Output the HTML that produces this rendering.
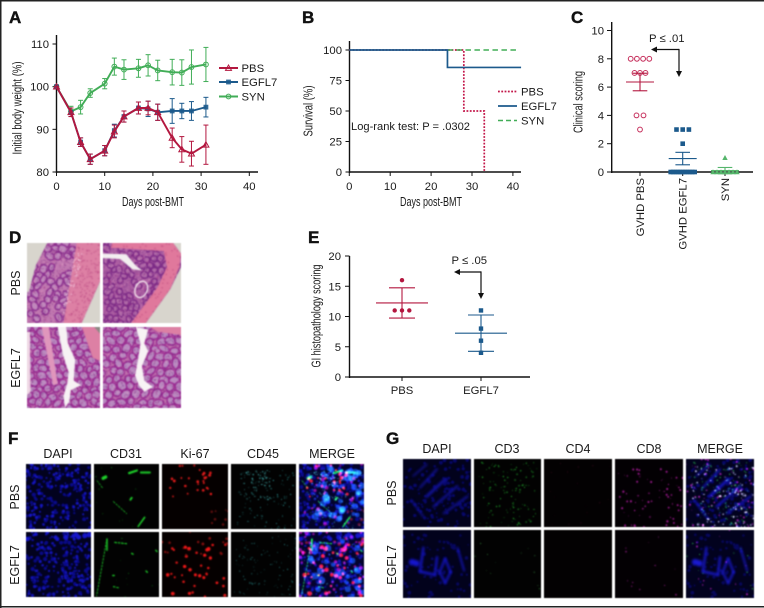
<!DOCTYPE html>
<html lang="en">
<head>
<meta charset="utf-8">
<title>Multi-panel figure</title>
<style>
html,body{margin:0;padding:0;background:#fff;}
#figure{position:relative;width:764px;height:608px;overflow:hidden;background:#fff;font-family:"Liberation Sans",sans-serif;}
#figure canvas{position:absolute;display:block;filter:blur(0.6px);}
#overlay{position:absolute;left:0;top:0;}
#overlay text{font-family:"Liberation Sans",sans-serif;fill:#1a1a1a;}
.letter{font-size:17px;font-weight:bold;fill:#111 !important;stroke:#111;stroke-width:.4px;}
.tick{font-size:11.3px;}
.title{font-size:13px;}
.col{font-size:12.5px;}
</style>
</head>
<body>
<div id="figure">
<canvas id="d1" width="73" height="80" style="left:27px;top:243px"></canvas>
<canvas id="d2" width="78" height="80" style="left:103px;top:243px"></canvas>
<canvas id="d3" width="73" height="81" style="left:27px;top:327px"></canvas>
<canvas id="d4" width="78" height="81" style="left:103px;top:327px"></canvas>

<canvas id="f00" width="65" height="65" style="left:26px;top:464px"></canvas>
<canvas id="f01" width="65" height="65" style="left:94px;top:464px"></canvas>
<canvas id="f02" width="66" height="65" style="left:162px;top:464px"></canvas>
<canvas id="f03" width="65" height="65" style="left:231px;top:464px"></canvas>
<canvas id="f04" width="65" height="65" style="left:299px;top:464px"></canvas>
<canvas id="f10" width="65" height="65" style="left:26px;top:532px"></canvas>
<canvas id="f11" width="65" height="65" style="left:94px;top:532px"></canvas>
<canvas id="f12" width="66" height="65" style="left:162px;top:532px"></canvas>
<canvas id="f13" width="65" height="65" style="left:231px;top:532px"></canvas>
<canvas id="f14" width="65" height="65" style="left:299px;top:532px"></canvas>

<canvas id="g00" width="68" height="68" style="left:403px;top:459px"></canvas>
<canvas id="g01" width="67" height="68" style="left:474px;top:459px"></canvas>
<canvas id="g02" width="68" height="68" style="left:544px;top:459px"></canvas>
<canvas id="g03" width="68" height="68" style="left:615px;top:459px"></canvas>
<canvas id="g04" width="68" height="68" style="left:686px;top:459px"></canvas>
<canvas id="g10" width="68" height="68" style="left:403px;top:530px"></canvas>
<canvas id="g11" width="67" height="68" style="left:474px;top:530px"></canvas>
<canvas id="g12" width="68" height="68" style="left:544px;top:530px"></canvas>
<canvas id="g13" width="68" height="68" style="left:615px;top:530px"></canvas>
<canvas id="g14" width="68" height="68" style="left:686px;top:530px"></canvas>

<svg id="overlay" width="764" height="608" viewBox="0 0 764 608" xmlns="http://www.w3.org/2000/svg">
  <g>
    <rect x="0" y="0" width="764" height="1.5" fill="#222"/>
    <rect x="0" y="0" width="1.5" height="608" fill="#222"/>
    <rect x="0" y="606" width="764" height="1.5" fill="#222"/>
  </g>
  <text class="letter" x="9" y="23">A</text>
  <text class="letter" x="302" y="23">B</text>
  <text class="letter" x="571" y="23">C</text>
  <text class="letter" x="9" y="243">D</text>
  <text class="letter" x="308" y="243">E</text>
  <text class="letter" x="8" y="444">F</text>
  <text class="letter" x="386" y="444">G</text>

  <text class="col" transform="translate(20,283) rotate(-90)" text-anchor="middle">PBS</text>
  <text class="col" transform="translate(20,368) rotate(-90)" text-anchor="middle">EGFL7</text>

  <text class="col" x="58" y="458" text-anchor="middle">DAPI</text>
  <text class="col" x="126" y="458" text-anchor="middle">CD31</text>
  <text class="col" x="195" y="458" text-anchor="middle">Ki-67</text>
  <text class="col" x="263" y="458" text-anchor="middle">CD45</text>
  <text class="col" x="332" y="458" text-anchor="middle">MERGE</text>
  <text class="col" transform="translate(19,497) rotate(-90)" text-anchor="middle">PBS</text>
  <text class="col" transform="translate(19,565) rotate(-90)" text-anchor="middle">EGFL7</text>

  <text class="col" x="437" y="453" text-anchor="middle">DAPI</text>
  <text class="col" x="507" y="453" text-anchor="middle">CD3</text>
  <text class="col" x="578" y="453" text-anchor="middle">CD4</text>
  <text class="col" x="649" y="453" text-anchor="middle">CD8</text>
  <text class="col" x="720" y="453" text-anchor="middle">MERGE</text>
  <text class="col" transform="translate(396,493) rotate(-90)" text-anchor="middle">PBS</text>
  <text class="col" transform="translate(396,565) rotate(-90)" text-anchor="middle">EGFL7</text>

  <g id="panel-a"></g>
  <g id="panel-b"></g>
  <g id="panel-c"></g>
  <g id="panel-e"></g>
</svg>
</div>

<script>
/* ---------- chart data ---------- */
const weightDays = [0,3,5,7,10,12,14,17,19,21,24,26,28,31];
const weightSyn = [100,94.2,95.2,98.5,100.7,104.7,104,104.3,105,103.8,103.4,103.3,104.6,105.2];
const weightSynErr = [0,1.2,1.6,1,1.2,2,2.3,2.1,2.5,2.4,3,3,4,4];
const weightEgfl7 = [100,94,87,83,85,89.7,93,95,94.8,94,94.3,94.3,94.3,95.2];
const weightEgfl7Err = [0,1,1,1.2,1.2,1.5,1.3,1.4,1.8,1.9,2.9,1.8,2.2,2.3];
const weightPbs = [100,94,87,83,85,89.5,93,95,95,94,88,85.3,84.3,86.4];
const weightPbsErr = [0,1,1,1.2,1.2,1.5,1.3,1.4,1.6,1.9,2.3,3,2.9,4.6];
const weightXTicks = [0,10,20,30,40];
const weightYTicks = [80,90,100,110];

const survivalXTicks = [0,10,20,30,40];
const survivalYTicks = [0,25,50,75,100];
const survivalPbsDays = [0,28,28,33,33];
const survivalPbs = [100,100,50,50,0];
const survivalEgfl7Days = [0,24,24,42];
const survivalEgfl7 = [100,100,85.7,85.7];
const survivalSynDays = [24,41];
const survivalSyn = [100,100];

const clinicalGroups = ['GVHD PBS','GVHD EGFL7','SYN'];
const clinicalPbs = [8,8,8,8,7,7,7,4,4,3];
const clinicalEgfl7 = [3,3,3,2,0,0,0,0,0,0,0,0,0,0,0];
const clinicalSyn = [1,0,0,0,0,0,0,0];
const clinicalMeans = [6.36,0.95,0.1];
const clinicalErrs = [0.62,0.44,0.22];
const clinicalYTicks = [0,2,4,6,8,10];

const histoGroups = ['PBS','EGFL7'];
const histoPbs = [16,11,11,11];
const histoEgfl7 = [11,8,6,4];
const histoMeans = [12.25,7.25];
const histoErrs = [2.5,3];
const histoYTicks = [0,5,10,15,20];

const RED='#b3173f', BLUE='#1c5a8c', GREEN='#41ad57', INK='#111';
const NS='http://www.w3.org/2000/svg';
function mk(tag,parent,attrs){
  const el=document.createElementNS(NS,tag);
  for(const k in attrs) el.setAttribute(k,attrs[k]);
  parent.appendChild(el);
  return el;
}
function line(parent,x1,y1,x2,y2,stroke,w){
  return mk('line',parent,{x1:x1,y1:y1,x2:x2,y2:y2,stroke:stroke,'stroke-width':w});
}
function label(parent,x,y,str,cls,anchor){
  const t=mk('text',parent,{x:x,y:y,class:cls,'text-anchor':anchor||'middle'});
  t.textContent=str;
  return t;
}
function fitted(parent,cx,cy,len,rot,str){
  const t=mk('text',parent,{class:'title','text-anchor':'middle',textLength:len,lengthAdjust:'spacingAndGlyphs',
    transform:'translate('+cx+','+cy+')'+(rot?' rotate(-90)':''),x:0,y:0});
  t.textContent=str;
  return t;
}
function group(parent){return mk('g',parent,{});}

/* ---------- Panel A ---------- */
(function(){
  const root=document.getElementById('panel-a');
  const X=d=>56.5+d*4.82, Y=v=>172-(v-80)*4.267;
  const ax=group(root);
  
  
  line(ax,56.5,35,56.5,173,INK,1.4);
  line(ax,56,172,258,172,INK,1.4);
  weightXTicks.forEach(t=>{
    line(ax,X(t),172,X(t),176,INK,1);
    label(ax,X(t),190,t,'tick');
  });
  weightYTicks.forEach(t=>{
    line(ax,52.5,Y(t),56.5,Y(t),INK,1);
    label(ax,49,Y(t)+4,t,'tick','end');
  });
  const xt=fitted(root,153,206,62,false,'Days post-BMT');
  
  
  const yt=fitted(root,21.5,108,93,true,'Initial body weight (%)');
  
  

  function series(vals,errs,color,kind,name){
    const g=group(root);
    
    
    vals.forEach((v,i)=>{
      const x=X(weightDays[i]),hi=Y(v+errs[i]),lo=Y(v-errs[i]);
      line(g,x,hi,x,lo,color,1);
      line(g,x-2.5,hi,x+2.5,hi,color,1);
      line(g,x-2.5,lo,x+2.5,lo,color,1);
    });
    mk('polyline',g,{points:vals.map((v,i)=>X(weightDays[i])+','+Y(v)).join(' '),fill:'none',stroke:color,'stroke-width':1.9,'stroke-linejoin':'round'});
    vals.forEach((v,i)=>marker(g,X(weightDays[i]),Y(v),color,kind));
  }
  function marker(g,x,y,color,kind){
    if(kind==='tri') mk('path',g,{d:'M'+x+' '+(y-3)+'L'+(x+3)+' '+(y+2.4)+'L'+(x-3)+' '+(y+2.4)+'Z',fill:'none',stroke:color,'stroke-width':1});
    else if(kind==='sq') mk('rect',g,{x:x-2.4,y:y-2.4,width:4.8,height:4.8,fill:color,opacity:.9});
    else mk('circle',g,{cx:x,cy:y,r:2.4,fill:'none',stroke:color,'stroke-width':1});
  }
  series(weightSyn,weightSynErr,GREEN,'cir','series-syn');
  series(weightEgfl7,weightEgfl7Err,BLUE,'sq','series-egfl7');
  series(weightPbs,weightPbsErr,RED,'tri','series-pbs');

  const leg=group(root);
  
  
  [['PBS',RED,'tri',68],['EGFL7',BLUE,'sq',82],['SYN',GREEN,'cir',96.5]].forEach(e=>{
    line(leg,219,e[3],238,e[3],e[1],1.9);
    marker(leg,228.5,e[3],e[1],e[2]);
    label(leg,241.5,e[3]+4,e[0],'tick','start');
  });
})();

/* ---------- Panel B ---------- */
(function(){
  const root=document.getElementById('panel-b');
  const X=d=>349.3+d*4.09, Y=v=>172-v*1.22;
  const ax=group(root);
  
  
  line(ax,349.5,41,349.5,173,INK,1.4);
  line(ax,349,172,521,172,INK,1.4);
  survivalXTicks.forEach(t=>{
    line(ax,X(t),172,X(t),176,INK,1);
    label(ax,X(t),190,t,'tick');
  });
  survivalYTicks.forEach(t=>{
    line(ax,345.5,Y(t),349.5,Y(t),INK,1);
    label(ax,342,Y(t)+4,t,'tick','end');
  });
  const xt=fitted(root,431,206,62,false,'Days post-BMT');
  
  
  const yt=fitted(root,312.5,111,51,true,'Survival (%)');
  
  
  function pts(d,v){return d.map((x,i)=>X(x)+','+Y(v[i])).join(' ');}
  const pbs=mk('polyline',root,{points:pts(survivalPbsDays,survivalPbs),fill:'none',stroke:'#c3174a','stroke-width':1.7,'stroke-dasharray':'1.8 1.5'});
  
  
  const syn=mk('polyline',root,{points:pts(survivalSynDays,survivalSyn),fill:'none',stroke:GREEN,'stroke-width':1.5,'stroke-dasharray':'5.5 3.5'});
  
  
  const egf=mk('polyline',root,{points:pts(survivalEgfl7Days,survivalEgfl7),fill:'none',stroke:BLUE,'stroke-width':1.7});
  
  
  const leg=group(root);
  
  
  line(leg,498,91.5,517,91.5,'#c3174a',1.7).setAttribute('stroke-dasharray','1.8 1.5');
  line(leg,498,106,517,106,BLUE,1.7);
  line(leg,498,120.5,517,120.5,GREEN,1.5).setAttribute('stroke-dasharray','5 3');
  label(leg,521,95.5,'PBS','tick','start');
  label(leg,521,110,'EGFL7','tick','start');
  label(leg,521,124.5,'SYN','tick','start');
  const lr=mk('text',root,{x:351,y:130,class:'tick',textLength:119,lengthAdjust:'spacingAndGlyphs'});
  lr.textContent='Log-rank test: P = .0302';
  
  
})();

function arrow(root,xStart,yH,xEnd,yEnd){
  const g=group(root);
  line(g,xStart,yH,xEnd+4,yH,INK,1.2);
  line(g,xStart,yH-.6,xStart,yEnd-4,INK,1.2);
  mk('path',g,{d:'M'+xEnd+' '+yH+'L'+(xEnd+6)+' '+(yH-3)+'L'+(xEnd+6)+' '+(yH+3)+'Z',fill:INK});
  mk('path',g,{d:'M'+xStart+' '+yEnd+'L'+(xStart-3)+' '+(yEnd-6)+'L'+(xStart+3)+' '+(yEnd-6)+'Z',fill:INK});
  return g;
}

/* ---------- Panel C ---------- */
(function(){
  const root=document.getElementById('panel-c');
  const Y=v=>172-v*14.15;
  const centers=[640,682.7,725];
  const ax=group(root);
  
  
  line(ax,611.7,22,611.7,173,INK,1.4);
  line(ax,611,172,753,172,INK,1.4);
  clinicalYTicks.forEach(t=>{
    line(ax,607,Y(t),611.7,Y(t),INK,1);
    label(ax,604,Y(t)+4,t,'tick','end');
  });
  clinicalGroups.forEach((name,i)=>{
    line(ax,centers[i],172,centers[i],176,INK,1);
    const t=mk('text',ax,{class:'tick','text-anchor':'end',transform:'translate('+(centers[i]+4)+',178) rotate(-90)',x:0,y:0});
    t.textContent=name;
  });
  const yt=fitted(root,582.5,102,62,true,'Clinical scoring');
  
  
  function swarm(vals,i,color,kind,name){
    const g=group(root);
    
    
    const levels=[...new Set(vals)];
    levels.forEach(v=>{
      const n=vals.filter(o=>o===v).length;
      let step=6.2;
      if(v===0&&i===1) step=2.4;
      if(v===0&&i===2) step=4;
      if(i===0&&n===3) step=5.5;
      if(i===0&&n===2) step=7;
      for(let k=0;k<n;k++){
        const x=centers[i]+(k-(n-1)/2)*step, y=Y(v);
        if(kind==='c') mk('circle',g,{cx:x,cy:y,r:2.4,fill:'none',stroke:'#c62f5c','stroke-width':1});
        else if(kind==='s') mk('rect',g,{x:x-2.3,y:y-2.3,width:4.6,height:4.6,fill:color});
        else mk('path',g,{d:'M'+x+' '+(y-2.8)+'L'+(x+2.7)+' '+(y+2.2)+'L'+(x-2.7)+' '+(y+2.2)+'Z',fill:color});
      }
    });
    const m=clinicalMeans[i],e=clinicalErrs[i],cx=centers[i];
    line(g,cx-14,Y(m),cx+14,Y(m),color,1.1);
    line(g,cx,Y(m-e),cx,Y(m+e),color,1.1);
    line(g,cx-7.3,Y(m-e),cx+7.3,Y(m-e),color,1.1);
    line(g,cx-7.3,Y(m+e),cx+7.3,Y(m+e),color,1.1);
  }
  swarm(clinicalPbs,0,RED,'c','clinical-points-pbs');
  swarm(clinicalEgfl7,1,BLUE,'s','clinical-points-egfl7');
  swarm(clinicalSyn,2,'#55b56b','t','clinical-points-syn');
  const a=arrow(root,679,49.5,651,77);
  
  
  const p=label(root,649,42,'P ≤ .01','tick','start');
  
  
})();

/* ---------- Panel E ---------- */
(function(){
  const root=document.getElementById('panel-e');
  const Y=v=>377-v*6.05;
  const centers=[402,481];
  const ax=group(root);
  
  
  line(ax,349.5,256,349.5,378,INK,1.4);
  line(ax,345,256,349.5,256,INK,1);
  line(ax,349,377,530,377,INK,1.4);
  histoYTicks.forEach(t=>{
    line(ax,345,Y(t),349.5,Y(t),INK,1);
    label(ax,341,Y(t)+4,t,'tick','end');
  });
  histoGroups.forEach((name,i)=>{
    line(ax,centers[i],377,centers[i],381,INK,1);
    label(ax,centers[i],394,name,'tick');
  });
  const yt=fitted(root,320.5,316,103,true,'GI histopathology scoring');
  
  
  function swarm(vals,i,color,kind,name){
    const g=group(root);
    
    
    [...new Set(vals)].forEach(v=>{
      const n=vals.filter(o=>o===v).length;
      for(let k=0;k<n;k++){
        const x=centers[i]+(k-(n-1)/2)*7.3,y=Y(v);
        if(kind==='c') mk('circle',g,{cx:x,cy:y,r:2.2,fill:color});
        else mk('rect',g,{x:x-2.2,y:y-2.2,width:4.4,height:4.4,fill:color});
      }
    });
    const m=histoMeans[i],e=histoErrs[i],cx=centers[i];
    line(g,cx-26,Y(m),cx+26,Y(m),color,1.1);
    line(g,cx,Y(m-e),cx,Y(m+e),color,1.1);
    line(g,cx-13,Y(m-e),cx+13,Y(m-e),color,1.1);
    line(g,cx-13,Y(m+e),cx+13,Y(m+e),color,1.1);
  }
  swarm(histoPbs,0,RED,'c','histopathology-points-pbs');
  swarm(histoEgfl7,1,BLUE,'s','histopathology-points-egfl7');
  const a=arrow(root,481,272,454,299);
  
  
  const p=label(root,451.5,264,'P ≤ .05','tick','start');
  
  
})();

/* ---------- micrograph textures ---------- */
function rng(seed){
  return function(){
    seed|=0;seed=seed+0x6D2B79F5|0;
    let t=Math.imul(seed^seed>>>15,1|seed);
    t=t+Math.imul(t^t>>>7,61|t)^t;
    return ((t^t>>>14)>>>0)/4294967296;
  };
}
function poly(ctx,w,h,pts,color){
  ctx.fillStyle=color;ctx.beginPath();
  pts.forEach((p,i)=>{const x=p[0]*w,y=p[1]*h;i?ctx.lineTo(x,y):ctx.moveTo(x,y);});
  ctx.closePath();ctx.fill();
}
function crypts(ctx,w,h,seed,size,ring,core,base,density){
  const r=rng(seed);
  ctx.fillStyle=base;ctx.fillRect(0,0,w,h);
  for(let y=0;y<h+size;y+=size*1.5){
    for(let x=(y/(size*1.5))%2*size;x<w+size;x+=size*1.9){
      if(r()>density) continue;
      const cx=x+(r()-.5)*size*.7,cy=y+(r()-.5)*size*.7,a=size*(.65+r()*.3),b=size*(.75+r()*.45);
      ctx.beginPath();ctx.ellipse(cx,cy,a,b,r()*3,0,7);
      ctx.fillStyle=core;ctx.fill();
      ctx.lineWidth=1.5;ctx.strokeStyle=ring;ctx.stroke();
    }
  }
  for(let i=0;i<1500;i++){
    const v=r();
    ctx.fillStyle=v<.45?'rgba(110,35,125,.4)':(v<.8?'rgba(235,165,200,.35)':'rgba(160,40,130,.4)');
    ctx.fillRect(r()*w,r()*h,1.2,1.2);
  }
}
function grain(ctx,w,h,pts,seed,n,color){
  const r=rng(seed);
  const xs=pts.map(p=>p[0]),ys=pts.map(p=>p[1]);
  ctx.save();ctx.beginPath();
  pts.forEach((p,i)=>{i?ctx.lineTo(p[0]*w,p[1]*h):ctx.moveTo(p[0]*w,p[1]*h);});
  ctx.closePath();ctx.clip();
  ctx.fillStyle=color;
  for(let i=0;i<n;i++){
    ctx.fillRect((Math.min(...xs)+r()*(Math.max(...xs)-Math.min(...xs)))*w,(Math.min(...ys)+r()*(Math.max(...ys)-Math.min(...ys)))*h,1.3,1.3);
  }
  ctx.restore();
}
(function(){
  const GREY='#d8d5cd',BAND='#dd80a4',RING='#9a2a92',CORE='#b98ac0',BASE='#bb6cab';
  let c=document.getElementById('d1').getContext('2d'),w=73,h=80;
  crypts(c,w,h,11,4.2,'#8c2f90','#c088bc','#c078b0',.55);
  let band=[[.68,0],[1,0],[1,.48],[.75,1],[.5,1]];
  poly(c,w,h,band,BAND);grain(c,w,h,band,12,260,'rgba(180,60,125,.45)');
  let pale=[[.66,.12],[.78,.12],[.56,.9],[.46,.9]];
  grain(c,w,h,pale,15,170,'rgba(245,205,225,.7)');
  poly(c,w,h,[[0,0],[.28,0],[.12,.28],[.03,.6],[0,.62]],GREY);
  poly(c,w,h,[[1,.48],[1,1],[.75,1]],GREY);

  c=document.getElementById('d2').getContext('2d');w=78;h=80;
  crypts(c,w,h,23,3.6,'#7e2c88','#b06aa8','#ab5ea2',.6);
  band=[[.12,0],[.9,0],[1,.13],[.98,.3],[.86,.58],[.55,1],[.36,1],[.7,.55],[.82,.3],[.78,.1],[.1,.06]];
  poly(c,w,h,band,'#e0789c');grain(c,w,h,band,24,180,'rgba(175,50,115,.45)');
  poly(c,w,h,[[.9,0],[1,0],[1,.13]],GREY);
  poly(c,w,h,[[1,.3],[1,1],[.55,1],[.86,.58]],GREY);
  poly(c,w,h,[[0,.13],[.3,.14],[.42,.28],[.5,.34],[.38,.33],[.22,.2],[0,.19]],'#f3eef0');
  c.beginPath();c.ellipse(.49*w,.58*h,6,8.5,.4,0,7);c.strokeStyle='#f6e8ef';c.lineWidth=1.4;c.stroke();

  c=document.getElementById('d3').getContext('2d');w=73;h=81;
  crypts(c,w,h,35,4.6,RING,CORE,BASE,1);
  poly(c,w,h,[[.2,0],[.3,0],[.42,.7],[.36,.72]],'#e096bc');
  poly(c,w,h,[[.75,0],[1,0],[1,.42],[.9,.38]],BAND);
  poly(c,w,h,[[.92,0],[1,0],[1,.08]],'#8c8a84');
  poly(c,w,h,[[.42,0],[.54,0],[.56,.2],[.66,.4],[.64,.66],[.74,.72],[.6,.78],[.58,.92],[.52,1],[.5,.85],[.55,.7],[.57,.56],[.49,.34]],'#f7f2f4');
  poly(c,w,h,[[0,.06],[.04,.06],[.05,.8],[0,.84]],'#eed8e4');

  c=document.getElementById('d4').getContext('2d');w=78;h=81;
  crypts(c,w,h,47,5,RING,CORE,BASE,1);
  poly(c,w,h,[[.42,0],[.58,.03],[.53,.2],[.58,.3],[.5,.48],[.53,.66],[.64,.74],[.53,.8],[.46,.72],[.41,.6],[.45,.4],[.48,.2]],'#f8f3f5');
  poly(c,w,h,[[.6,0],[1,0],[1,.1],[.7,.06]],BAND);
})();

/* fluorescence channels */
const F_DAPI=[{n:110,c:'#0a0a88',r:[1,2.2]},{n:120,c:'#1616c4',r:[.8,1.7]}];
const F_DAPI2=[{n:110,c:'#0a0a88',r:[1,2.2]},{n:120,c:'#1414b8',r:[.8,1.7]},{n:14,c:'#1616c8',r:[1.5,2.6],box:[0,0,1,.12]}];
const strokesF0=[[.54,.14,.66,.1,2.2],[.72,.13,.86,.13,2],[.14,.22,.18,.2,3.4],[.05,.26,.14,.38,.9],[.3,.58,.5,.76,1],[.56,.55,.58,.52,2],[.68,.96,.78,.82,1.6]];
const strokesF1=[[.2,.1,.04,.98,.9],[.2,.12,.2,.28,1.4],[.32,.16,.5,.18,1.2],[.58,.33,.6,.34,1.5],[.29,.67,.31,.67,1.6],[.3,.84,.38,.86,1.1],[.8,.6,.82,.62,1.3],[.95,.28,.97,.3,1.3]];
const panelsF=[
 {dapi:F_DAPI,cd:strokesF0,ki:[{n:28,c:'#e81c1c',r:[.8,1.5],box:[.08,0,.75,.5]},{n:8,c:'#6a1010',r:[.8,1.5],box:[.7,.7,1,1]}],cy:[{n:100,c:'#2f9a9a',r:[.3,.65],box:[.1,.1,1,1]},{n:60,c:'#48bcbc',r:[.35,.75],box:[.2,.1,.6,.55]}]},
 {dapi:F_DAPI2,cd:strokesF1,ki:[{n:36,c:'#ee1818',r:[1,2],box:[.05,.1,1,1]},{n:16,c:'#8a1010',r:[.8,1.5],box:[0,0,1,.4]}],cy:[{n:100,c:'#2c8e8e',r:[.3,.6],box:[.05,.05,1,1]}]}
];
const G_DAPI0=[{n:120,c:'#08086a',r:[.8,2]}];
const G_DAPI1=[{n:70,c:'#08085e',r:[.8,2]}];
const gStreaks0=[[.35,.55,.62,.3,3],[.45,.7,.8,.4,2.4],[.25,.42,.5,.15,2],[.6,.8,.95,.55,2],[.12,.6,.3,.85,1.6],[.15,.25,.35,.08,1.6]];
const gStreaks1=[[.13,.47,.2,.49,6],[.3,.26,.25,.61,2.2],[.25,.61,.47,.66,2.4],[.47,.66,.5,.4,2.2],[.8,.26,.9,.6,1.6],[.62,.42,.7,.62,2],[.7,.62,.62,.78,2],[.62,.78,.54,.62,2],[.54,.62,.62,.42,2]];

function drawLayer(ctx,w,h,layers,seed){
  const r=rng(seed);
  layers.forEach(l=>{
    const b=l.box||[0,0,1,1];
    ctx.fillStyle=l.c;
    for(let i=0;i<l.n;i++){
      ctx.beginPath();
      ctx.arc((b[0]+r()*(b[2]-b[0]))*w,(b[1]+r()*(b[3]-b[1]))*h,l.r[0]+r()*(l.r[1]-l.r[0]),0,7);
      ctx.fill();
    }
  });
}
function drawStrokes(ctx,w,h,list,color,blur){
  ctx.save();
  if(blur) ctx.filter='blur('+blur+'px)';
  ctx.strokeStyle=color;ctx.lineCap='round';
  list.forEach(s=>{
    ctx.lineWidth=s[4];
    ctx.setLineDash(s[4]<1.3?[1.6,1.8]:[]);
    ctx.beginPath();ctx.moveTo(s[0]*w,s[1]*h);ctx.lineTo(s[2]*w,s[3]*h);ctx.stroke();
  });
  ctx.restore();
}
function blackCtx(id,bg){
  const el=document.getElementById(id),c=el.getContext('2d');
  c.fillStyle=bg||'#020202';c.fillRect(0,0,el.width,el.height);
  return [c,el.width,el.height];
}
panelsF.forEach((p,row)=>{
  const s=100+row*10;
  let a=blackCtx('f'+row+'0','#02021e');drawLayer(a[0],a[1],a[2],p.dapi,s);
  a=blackCtx('f'+row+'1');drawStrokes(a[0],a[1],a[2],p.cd,'#1ecf2a');drawLayer(a[0],a[1],a[2],[{n:10,c:'#0f6a18',r:[.3,.7]}],s+1);
  a=blackCtx('f'+row+'2','#050000');drawLayer(a[0],a[1],a[2],p.ki,s+2);
  a=blackCtx('f'+row+'3');drawLayer(a[0],a[1],a[2],p.cy,s+3);
  a=blackCtx('f'+row+'4','#03032c');const c=a[0];
  drawLayer(c,a[1],a[2],p.dapi,s);
  c.globalCompositeOperation='lighter';
  drawLayer(c,a[1],a[2],[{n:row?26:50,c:'#103c90',r:[2,3.6],box:row?[.1,.1,1,1]:[.25,.05,1,.85]}],s+7);
  drawLayer(c,a[1],a[2],p.ki.map(l=>({n:l.n,c:l.c,r:[l.r[0]*1.1,l.r[1]*1.25],box:l.box})),s+2);
  drawLayer(c,a[1],a[2],[{n:row?40:22,c:'#8e0c78',r:[1,2.2]}],s+8);
  drawStrokes(c,a[1],a[2],p.cd,'#1ad828');
  drawLayer(c,a[1],a[2],p.cy,s+3);
  c.globalCompositeOperation='source-over';
});
[0,1].forEach(row=>{
  const s=200+row*10;
  const strk=row?gStreaks1:gStreaks0;
  const nGreen=row?12:120,nMag=row?12:70;
  const greenBox=row?[0,0,1,1]:[.05,.05,.95,1];
  let a=blackCtx('g'+row+'0','#02021c');
  drawLayer(a[0],a[1],a[2],row?G_DAPI1:G_DAPI0,s);
  drawStrokes(a[0],a[1],a[2],strk,row?'#1616d0':'#12129c',1);
  a=blackCtx('g'+row+'1');drawLayer(a[0],a[1],a[2],[{n:nGreen,c:row?'#265e2c':'#209a2a',r:[.35,.8],box:greenBox}],s+1);
  a=blackCtx('g'+row+'2','#030102');if(!row)drawLayer(a[0],a[1],a[2],[{n:18,c:'#30091a',r:[.3,.7]}],s+2);
  a=blackCtx('g'+row+'3','#030003');drawLayer(a[0],a[1],a[2],[{n:nMag,c:row?'#7a1870':'#b01ca0',r:[.35,1.05],box:row?[0,.1,1,1]:[.05,.15,1,1]}],s+3);
  a=blackCtx('g'+row+'4','#02021e');const c=a[0];
  drawLayer(c,a[1],a[2],row?G_DAPI1:G_DAPI0,s);
  drawStrokes(c,a[1],a[2],strk,row?'#1a1ad4':'#1616c4',1);
  c.globalCompositeOperation='lighter';
  drawLayer(c,a[1],a[2],[{n:nGreen,c:'#209a2a',r:[.35,.8],box:greenBox}],s+1);
  drawLayer(c,a[1],a[2],[{n:nMag,c:'#b01ca0',r:[.35,1.05]}],s+3);
  if(!row)drawLayer(c,a[1],a[2],[{n:90,c:'#d0d0f0',r:[.4,1],box:[.05,.1,1,1]}],s+5);
  c.globalCompositeOperation='source-over';
});
</script>
</body>
</html>
